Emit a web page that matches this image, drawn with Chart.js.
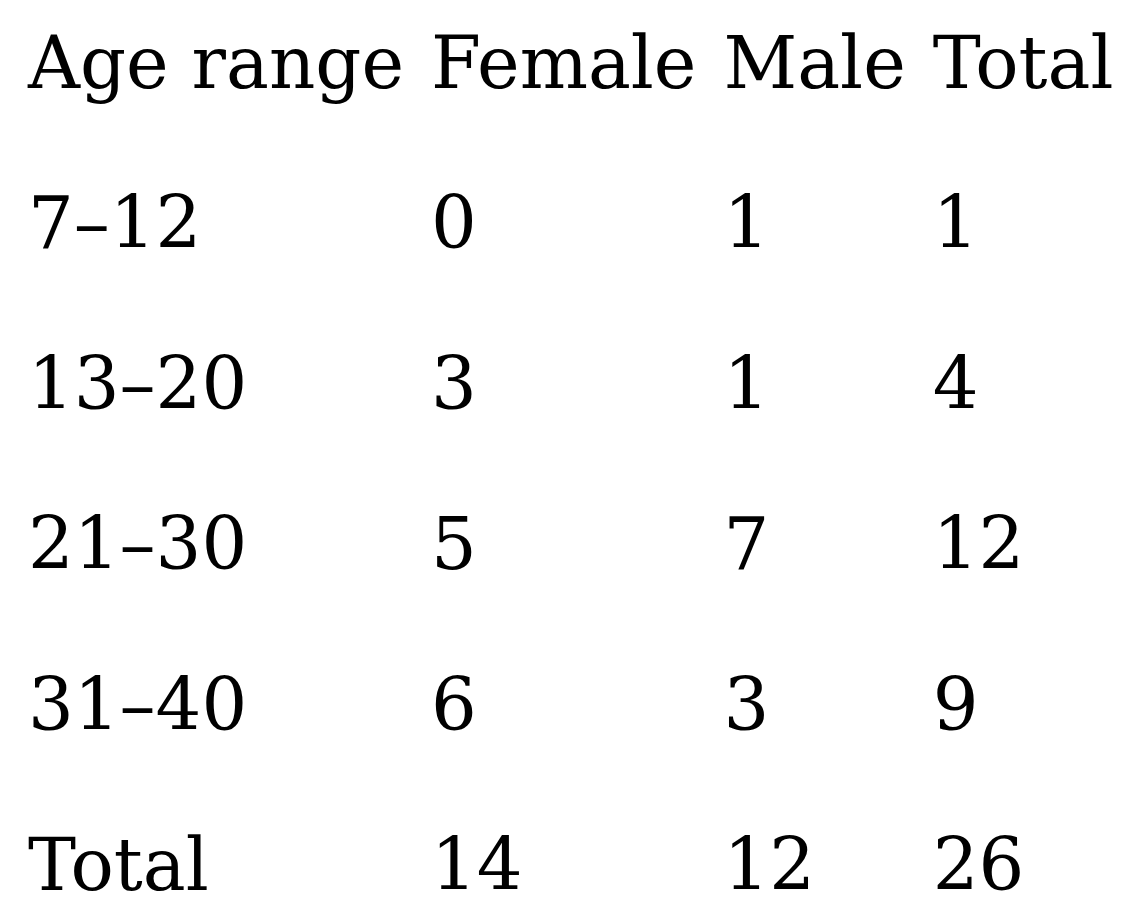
<!DOCTYPE html>
<html>
<head>
<meta charset="utf-8">
<title>Age range by sex</title>
<script src="https://cdn.jsdelivr.net/npm/chart.js@4/dist/chart.umd.min.js"></script>
<style>
  html, body { margin: 0; padding: 0; background: #fff; }
  #wrap { width: 1142px; height: 923px; position: relative; }
</style>
</head>
<body>
<div id="wrap"><canvas id="table-chart"></canvas></div>
<script>
// table data
const columns = ['Age range', 'Female', 'Male', 'Total']
const ageRanges = ['7–12', '13–20', '21–30', '31–40', 'Total']
const female = [0, 3, 5, 6, 14]
const male = [1, 1, 7, 3, 12]
const total = [1, 4, 12, 9, 26]

const FONT = '72px "DejaVu Serif", serif'
const COL_GAP = 27

// the y axis is a category scale with one row per line of the table
const rowLabels = ['header'].concat(ageRanges)

// each line as an array of strings, built from the arrays above
const rowCells = (i) =>
{
	if (i === 0) return columns
	const k = i - 1
	return [ageRanges[k], String(female[k]), String(male[k]), String(total[k])]
}

const tableText = {
	id: 'tableText',
	afterDraw(chart)
	{
		const ctx = chart.ctx
		const yScale = chart.scales.y
		const left = chart.chartArea.left
		ctx.save()
		ctx.font = FONT
		ctx.fillStyle = '#000'
		ctx.textBaseline = 'alphabetic'
		ctx.textAlign = 'left'

		// column widths like a plain table: widest cell + gap
		const colX = []
		let x = left
		for (let c = 0; c < columns.length; c++)
		{
			colX.push(x)
			let w = 0
			rowLabels.forEach((_, i) =>
			{
				w = Math.max(w, ctx.measureText(rowCells(i)[c]).width)
			})
			x += w + COL_GAP
		}

		rowLabels.forEach((label, i) =>
		{
			const y = yScale.getPixelForValue(i)
			rowCells(i).forEach((txt, c) =>
			{
				ctx.fillText(txt, colX[c], y)
			})
		})
		ctx.restore()
	}
}

new Chart(document.getElementById('table-chart'), {
	type: 'line',
	data: { labels: rowLabels, datasets: [] },
	options: {
		responsive: true,
		maintainAspectRatio: false,
		animation: false,
		layout: { padding: { left: 28, right: 0, top: 88, bottom: 33 } },
		plugins: { legend: { display: false }, tooltip: { enabled: false } },
		scales: {
			x: { type: 'linear', display: false },
			y: { type: 'category', labels: rowLabels, offset: false, display: false }
		}
	},
	plugins: [tableText]
})
</script>
</body>
</html>
